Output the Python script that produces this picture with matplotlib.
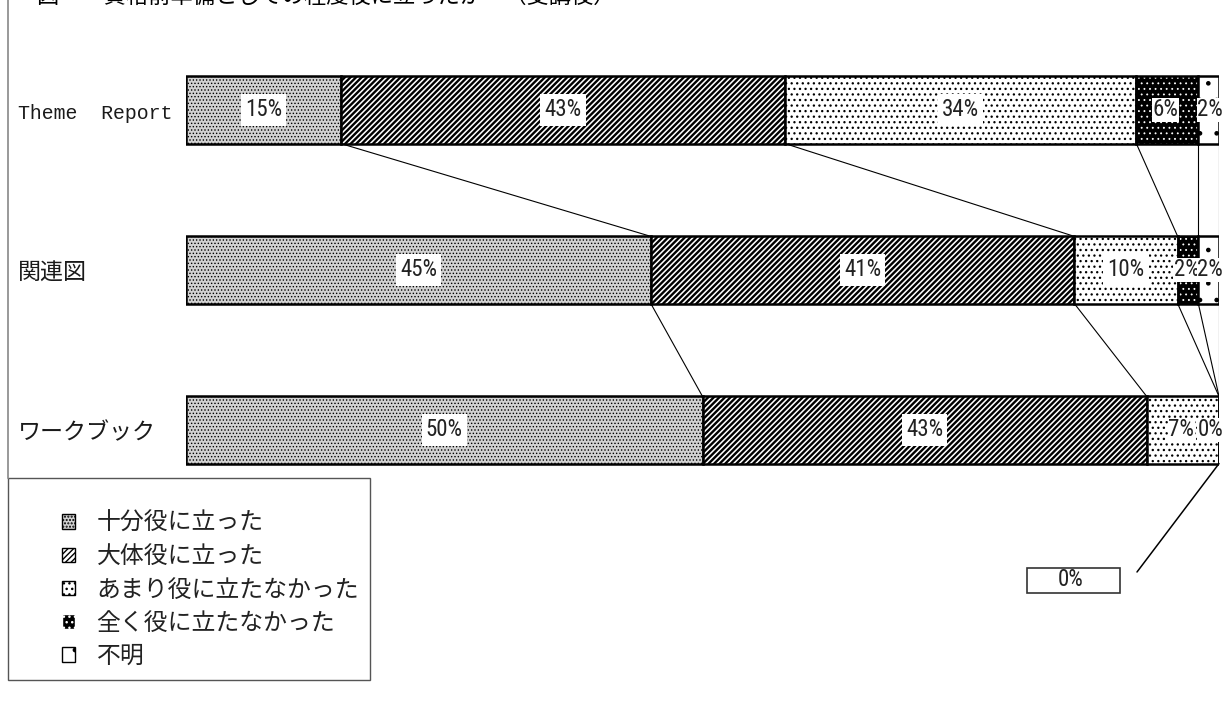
import matplotlib
matplotlib.use('Agg')
import matplotlib.pyplot as plt
from matplotlib import font_manager
from matplotlib.lines import Line2D
from matplotlib.patches import Patch, Rectangle
import numpy as np

plt.rcParams['font.family'] = ['Noto Sans CJK JP', 'DejaVu Sans']
plt.rcParams['hatch.linewidth'] = 1.0

# data
categories = ['Theme  Report', '関連図', 'ワークブック']
series = ['十分役に立った', '大体役に立った', 'あまり役に立たなかった', '全く役に立たなかった', '不明']
juubun = [15, 45, 50]
daitai = [43, 41, 43]
amari = [34, 10, 7]
mattaku = [6, 2, 0]
fumei = [2, 2, 0]
title = '図　　資格前準備としての程度役に立ったか　（受講後）'

values = [juubun, daitai, amari, mattaku, fumei]
# face, hatch, hatch colour, hatch width
styles = [('#d2d2d2', '.....', 'black', 0.6),
          ('white', '//////', 'black', 1.7),
          ('white', '...', 'black', 0.9),
          ('black', '...', 'white', 0.6),
          ('white', '.', 'black', 0.9)]

# a narrow font for the percent labels, if one is installed
pct_family, pct_stretch, pct_size = 'Noto Sans CJK JP', 'normal', 15
names = {f.name: f.stretch for f in font_manager.fontManager.ttflist}
stretches = {(f.name, f.stretch) for f in font_manager.fontManager.ttflist}
if 'Liberation Sans Narrow' in names:
    pct_family, pct_stretch, pct_size = 'Liberation Sans Narrow', 'normal', 17.5
elif 'Roboto Condensed' in names:
    pct_family, pct_stretch, pct_size = 'Roboto Condensed', 'normal', 16.5
elif ('DejaVu Sans', 'condensed') in stretches:
    pct_family, pct_stretch, pct_size = 'DejaVu Sans', 'condensed', 15
pct_font = [pct_family, 'Noto Sans CJK JP']

W, H = 1225, 720
fig = plt.figure(figsize=(W / 100, H / 100), dpi=100)
ax = fig.add_axes([186 / W, 1 - 480 / H, 1033 / W, 420 / H])

ypos = np.arange(len(categories))
bh = 0.42
left = np.zeros(len(categories))
cums = []
for vals, (fc, hatch, hc, hw) in zip(values, styles):
    vals = np.array(vals, dtype=float)
    with plt.rc_context({'hatch.linewidth': hw}):
        bars = ax.barh(ypos, vals, left=left, height=bh, color=fc, edgecolor=hc,
                       hatch=hatch, linewidth=0)
    for b in bars:
        if hasattr(b, 'set_hatch_linewidth'):
            b.set_hatch_linewidth(hw)
    ax.barh(ypos, vals, left=left, height=bh, fill=False, edgecolor='black',
            linewidth=1.8)
    left = left + vals
    cums.append(left.copy())

# series lines
for i in range(len(categories) - 1):
    for c in cums:
        ax.plot([c[i], c[i + 1]], [i + bh / 2, i + 1 - bh / 2], color='black',
                lw=0.8, zorder=1)

# percent labels
start = np.zeros(len(categories))
for k, vals in enumerate(values):
    for i, v in enumerate(vals):
        if k == len(values) - 1 and v == 0:
            continue
        x, ha = start[i] + v / 2, 'center'
        if x > 98.5:
            x, ha = 100.4, 'right'
        elif v < 10:
            x -= 0.15
        ax.text(x, i, '%d%%' % v, ha=ha, va='center', fontsize=pct_size,
                family=pct_font, fontstretch=pct_stretch, color='#222222',
                bbox=dict(facecolor='white', edgecolor='none',
                          pad=0.4 if v < 10 else 3.0))
    start = start + np.array(vals)

# callout for the hidden zero
ax.annotate('', xy=(100, 2 + bh / 2), xycoords='data',
            xytext=(1137, H - 572), textcoords='figure pixels',
            arrowprops=dict(arrowstyle='-', color='black', lw=1.1,
                            shrinkA=0, shrinkB=0))
fig.text(1071 / W, 1 - 580 / H, '%d%%' % fumei[2], ha='center', va='center',
         fontsize=pct_size, family=pct_font, fontstretch=pct_stretch,
         color='#222222')
fig.add_artist(Rectangle((1027 / W, 1 - 593 / H), 93 / W, 25 / H,
                         transform=fig.transFigure, facecolor='none',
                         edgecolor='#333333', lw=1.2))

ax.set_xlim(0, 100)
ax.set_ylim(2 + 50 / 160, -50 / 160)
ax.set_xticks([])
ax.set_yticks([])
for s in ax.spines.values():
    s.set_visible(False)
for i, cat in enumerate(categories):
    ascii_only = all(ord(ch) < 128 for ch in cat)
    ax.text(-168 / 1033, i + 0.02, cat, transform=ax.get_yaxis_transform(),
            ha='left', va='center', color='#1a1a1a',
            fontsize=14.3 if ascii_only else 16.6,
            family=['Liberation Mono', 'Noto Sans CJK JP'])

# legend
handles = [Patch(facecolor=fc, edgecolor=hc, hatch=h) for fc, h, hc, hw in styles]
leg = fig.legend(handles, series, loc='upper left',
                 bbox_to_anchor=(62 / W, 1 - 512 / H),
                 fontsize=17.2, frameon=False, borderaxespad=0, borderpad=0,
                 handlelength=0.55, handleheight=0.55, handletextpad=0.9,
                 labelspacing=0.43)
for t in leg.get_texts():
    t.set_color('#222222')
fig.add_artist(Rectangle((8 / W, 1 - 680 / H), 362 / W, 202 / H,
                         transform=fig.transFigure, facecolor='none',
                         edgecolor='#555555', lw=1.0))

# left frame line and cut-off title
fig.add_artist(Line2D([8 / W, 8 / W], [1, 1 - 478 / H], transform=fig.transFigure,
                      color='#888888', lw=1.2))
fig.text(37 / W, 1 - 3 / H, title, fontsize=16, va='baseline', ha='left')

fig.savefig('out.png', dpi=100)
